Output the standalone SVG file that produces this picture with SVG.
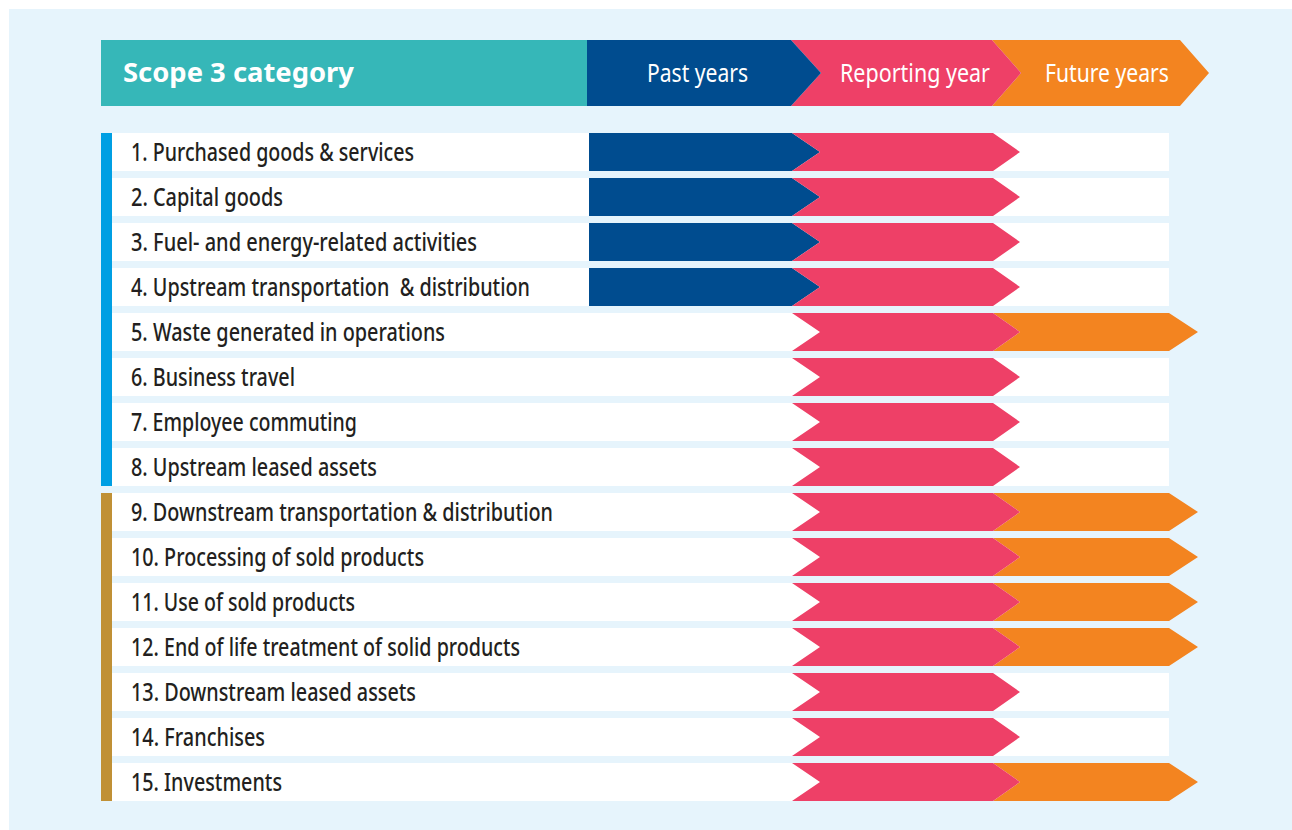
<svg xmlns="http://www.w3.org/2000/svg" width="1292" height="830" viewBox="0 0 1292 830">
<style>
.lbl{font-family:"Noto Sans","Liberation Sans",sans-serif;font-size:25px;font-weight:500;fill:#231F20}
.hd{font-family:"Noto Sans","Liberation Sans",sans-serif;font-size:26px;fill:#FFFFFF}
.row{fill:#FFFFFF}
.past{fill:#004C8F}
.rep{fill:#EE4067}
.fut{fill:#F38420}
</style>
<defs>
<polygon id="pastArrow" class="past" points="589,0 792,0 820,19 792,38 589,38"/>
<polygon id="repArrow" class="rep" points="792,0 993,0 1020,19 993,38 792,38 820,19"/>
<polygon id="futArrow" class="fut" points="993,0 1169,0 1198,19 1169,38 993,38 1020,19"/>
</defs>
<rect x="0" y="0" width="1292" height="830" fill="#FFFFFF"/>
<rect x="9" y="9" width="1283" height="821" fill="#E6F4FC"/>

<g id="header">
<rect x="101" y="40" width="486" height="66" fill="#36B7B8"/>
<text x="123" y="82" font-family="'Noto Sans','Liberation Sans',sans-serif" font-weight="bold" font-size="27" fill="#FFFFFF" textLength="231" lengthAdjust="spacingAndGlyphs">Scope 3 category</text>
<polygon class="fut" points="992,40 1180,40 1209,73 1180,106 992,106 1021,73"/>
<polygon class="rep" points="791,40 992,40 1021,73 992,106 791,106 821,73"/>
<polygon class="past" points="587,40 791,40 821,73 791,106 587,106"/>
<text class="hd" x="647" y="82" textLength="101" lengthAdjust="spacingAndGlyphs">Past years</text>
<text class="hd" x="840" y="82" textLength="150" lengthAdjust="spacingAndGlyphs">Reporting year</text>
<text class="hd" x="1045" y="82" textLength="124" lengthAdjust="spacingAndGlyphs">Future years</text>
</g>

<g id="side-bars">
<rect x="101" y="133" width="11" height="353" fill="#009FE3"/>
<rect x="101" y="493" width="11" height="308" fill="#C09035"/>
</g>

<g id="row1" transform="translate(0,133)">
<rect class="row" x="112" y="0" width="1057" height="38"/>
<use href="#pastArrow"/><use href="#repArrow"/>
<text class="lbl" x="131" y="28" textLength="283" lengthAdjust="spacingAndGlyphs">1. Purchased goods &amp; services</text>
</g>
<g id="row2" transform="translate(0,178)">
<rect class="row" x="112" y="0" width="1057" height="38"/>
<use href="#pastArrow"/><use href="#repArrow"/>
<text class="lbl" x="131" y="28" textLength="152" lengthAdjust="spacingAndGlyphs">2. Capital goods</text>
</g>
<g id="row3" transform="translate(0,223)">
<rect class="row" x="112" y="0" width="1057" height="38"/>
<use href="#pastArrow"/><use href="#repArrow"/>
<text class="lbl" x="131" y="28" textLength="346" lengthAdjust="spacingAndGlyphs">3. Fuel- and energy-related activities</text>
</g>
<g id="row4" transform="translate(0,268)">
<rect class="row" x="112" y="0" width="1057" height="38"/>
<use href="#pastArrow"/><use href="#repArrow"/>
<text class="lbl" x="131" y="28" textLength="399" lengthAdjust="spacingAndGlyphs" xml:space="preserve">4. Upstream transportation  &amp; distribution</text>
</g>
<g id="row5" transform="translate(0,313)">
<rect class="row" x="112" y="0" width="1057" height="38"/>
<use href="#futArrow"/><use href="#repArrow"/>
<text class="lbl" x="131" y="28" textLength="314" lengthAdjust="spacingAndGlyphs">5. Waste generated in operations</text>
</g>
<g id="row6" transform="translate(0,358)">
<rect class="row" x="112" y="0" width="1057" height="38"/>
<use href="#repArrow"/>
<text class="lbl" x="131" y="28" textLength="164" lengthAdjust="spacingAndGlyphs">6. Business travel</text>
</g>
<g id="row7" transform="translate(0,403)">
<rect class="row" x="112" y="0" width="1057" height="38"/>
<use href="#repArrow"/>
<text class="lbl" x="131" y="28" textLength="226" lengthAdjust="spacingAndGlyphs">7. Employee commuting</text>
</g>
<g id="row8" transform="translate(0,448)">
<rect class="row" x="112" y="0" width="1057" height="38"/>
<use href="#repArrow"/>
<text class="lbl" x="131" y="28" textLength="246" lengthAdjust="spacingAndGlyphs">8. Upstream leased assets</text>
</g>
<g id="row9" transform="translate(0,493)">
<rect class="row" x="112" y="0" width="1057" height="38"/>
<use href="#futArrow"/><use href="#repArrow"/>
<text class="lbl" x="131" y="28" textLength="422" lengthAdjust="spacingAndGlyphs">9. Downstream transportation &amp; distribution</text>
</g>
<g id="row10" transform="translate(0,538)">
<rect class="row" x="112" y="0" width="1057" height="38"/>
<use href="#futArrow"/><use href="#repArrow"/>
<text class="lbl" x="131" y="28" textLength="293" lengthAdjust="spacingAndGlyphs">10. Processing of sold products</text>
</g>
<g id="row11" transform="translate(0,583)">
<rect class="row" x="112" y="0" width="1057" height="38"/>
<use href="#futArrow"/><use href="#repArrow"/>
<text class="lbl" x="131" y="28" textLength="224" lengthAdjust="spacingAndGlyphs">11. Use of sold products</text>
</g>
<g id="row12" transform="translate(0,628)">
<rect class="row" x="112" y="0" width="1057" height="38"/>
<use href="#futArrow"/><use href="#repArrow"/>
<text class="lbl" x="131" y="28" textLength="389" lengthAdjust="spacingAndGlyphs">12. End of life treatment of solid products</text>
</g>
<g id="row13" transform="translate(0,673)">
<rect class="row" x="112" y="0" width="1057" height="38"/>
<use href="#repArrow"/>
<text class="lbl" x="131" y="28" textLength="285" lengthAdjust="spacingAndGlyphs">13. Downstream leased assets</text>
</g>
<g id="row14" transform="translate(0,718)">
<rect class="row" x="112" y="0" width="1057" height="38"/>
<use href="#repArrow"/>
<text class="lbl" x="131" y="28" textLength="134" lengthAdjust="spacingAndGlyphs">14. Franchises</text>
</g>
<g id="row15" transform="translate(0,763)">
<rect class="row" x="112" y="0" width="1057" height="38"/>
<use href="#futArrow"/><use href="#repArrow"/>
<text class="lbl" x="131" y="28" textLength="151" lengthAdjust="spacingAndGlyphs">15. Investments</text>
</g>
<g id="connectors"/>
</svg>
